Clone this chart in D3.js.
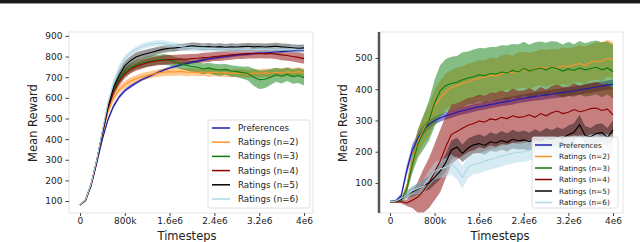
<!DOCTYPE html>
<meta charset="utf-8">
<style>
body { margin: 0; background: #fff; }
svg { display: block; font-family: "DejaVu Sans", sans-serif; }
.tick text { fill: #222; }
</style>
<body>
<script src="https://cdn.jsdelivr.net/npm/d3@7"></script>
<script>

// timesteps (shared by both panels)
var steps = [0, 1e5, 2e5, 3e5, 4e5, 5e5, 6e5, 7e5, 8e5, 9e5, 10e5, 11e5, 12e5, 13e5, 14e5, 15e5, 16e5, 17e5, 18e5, 19e5, 20e5,
             21e5, 22e5, 23e5, 24e5, 25e5, 26e5, 27e5, 28e5, 29e5, 30e5, 31e5, 32e5, 33e5, 34e5, 35e5, 36e5, 37e5, 38e5, 39e5, 40e5];

var seriesNames = ["Preferences", "Ratings (n=2)", "Ratings (n=3)", "Ratings (n=4)", "Ratings (n=5)", "Ratings (n=6)"];
var seriesColors = ["#1c1cae", "#ff9326", "#0b7d0b", "#8b0000", "#000000", "#add8e6"];

var xTickValues = [0, 8e5, 16e5, 24e5, 32e5, 40e5];
var xTickLabels = ["0", "800k", "1.6e6", "2.4e6", "3.2e6", "4e6"];
var leftYTicks = [100, 200, 300, 400, 500, 600, 700, 800, 900];
var rightYTicks = [100, 200, 300, 400, 500];

// left panel: means
var leftPref  = [80,102,175,285,400,495,560,605,635,655,672,688,700,712,724,735,745,752,760,766,773,778,784,789,793,797,800,804,807,810,812,815,817,818,820,822,824,826,828,830,832];
var leftN2    = [80,106,185,300,425,535,600,640,663,680,692,702,709,715,720,724,727,725,728,724,726,722,725,721,724,720,722,718,721,719,716,720,718,722,719,724,721,726,723,727,722];
var leftN3    = [80,104,182,295,430,555,640,690,725,745,760,768,775,780,785,786,782,774,765,758,752,748,740,745,738,735,738,730,727,722,718,700,688,690,700,712,705,714,703,708,698];
var leftN4    = [80,105,180,292,425,548,630,680,715,738,752,762,770,776,780,783,785,786,788,787,790,792,795,797,800,802,805,808,810,812,814,815,816,813,815,812,808,805,800,796,790];
var leftN5    = [80,105,182,295,432,560,650,710,755,780,798,808,815,822,830,836,840,842,845,848,852,850,847,849,846,848,845,847,846,848,850,847,849,846,848,850,847,845,843,840,842];
var leftN6    = [80,106,185,300,440,575,675,745,790,815,835,848,857,862,865,863,858,852,848,845,843,840,842,838,840,837,839,836,838,835,837,834,836,834,836,833,835,833,835,832,834];
// left panel: band half-widths
var leftPrefSd = [2,3,5,8,10,10,10,9,8,8,7,7,7,7,7,7,7,7,7,7,7,7,7,7,7,7,7,7,7,7,7,7,7,7,7,7,7,7,7,7,7];
var leftN2Sd   = [2,4,8,12,15,16,17,18,18,18,18,18,17,18,19,18,20,19,18,20,19,18,19,20,18,19,20,18,19,21,20,19,21,20,22,20,21,22,20,21,20];
var leftN3Sd   = [2,4,8,12,15,18,20,22,22,23,22,23,24,25,24,26,25,24,26,25,26,27,26,25,27,28,26,28,27,30,34,42,45,44,38,34,36,33,35,36,38];
var leftN4Sd   = [2,4,8,12,15,18,20,20,21,20,21,22,21,22,22,23,22,23,22,24,23,22,24,23,22,24,23,24,22,24,23,25,24,23,25,24,26,25,24,26,25];
var leftN5Sd   = [2,4,8,12,15,18,22,24,24,22,22,20,20,19,18,18,17,17,16,17,16,17,16,17,16,17,16,17,16,17,16,17,16,17,16,17,16,17,16,17,16];
var leftN6Sd   = [2,4,8,12,15,16,16,15,15,14,14,14,14,15,15,15,15,16,17,16,17,16,17,16,17,16,17,16,17,16,17,16,17,16,17,16,17,16,17,16,17];

// right panel: means
var rightPref = [40,42,58,140,205,243,270,287,300,308,315,320,326,331,335,340,344,347,351,354,358,361,364,368,371,374,377,379,382,384,387,390,392,395,398,401,404,407,410,413,416];
var rightN2   = [40,40,45,85,170,232,270,300,345,372,392,405,412,418,424,430,435,438,445,442,450,455,452,460,462,458,465,470,466,472,468,475,472,478,482,476,486,490,488,499,494];
var rightN3   = [40,40,44,80,160,225,262,300,355,395,412,418,422,430,436,440,446,443,450,448,455,452,460,456,466,458,464,468,462,470,466,458,465,460,468,462,466,470,462,468,456];
var rightN4   = [40,40,40,36,45,55,75,100,135,170,215,255,265,275,285,290,298,295,305,302,310,306,315,310,312,318,310,322,315,325,330,322,326,335,328,332,338,340,332,336,318];
var rightN5   = [40,42,48,62,72,80,92,100,118,138,165,205,215,195,212,222,226,220,232,228,236,230,240,235,238,232,242,236,246,240,248,244,254,262,286,252,248,258,262,245,270];
var rightN6   = [40,42,50,62,75,82,90,115,138,145,150,160,145,118,150,160,163,170,175,180,186,190,195,198,200,205,208,210,212,215,214,218,216,220,218,222,220,224,222,225,223];
// right panel: band half-widths
var rightPrefSd = [3,4,8,15,18,18,16,14,12,12,12,12,12,12,12,12,12,12,12,12,12,13,13,13,13,13,13,14,14,14,14,14,14,14,15,15,15,15,15,15,15];
var rightN2Sd   = [3,3,5,15,30,40,45,50,55,55,58,56,58,55,57,56,58,55,57,56,58,57,55,58,57,59,56,58,60,57,59,58,60,57,59,61,58,60,62,59,58];
var rightN3Sd   = [3,3,5,15,30,45,55,65,75,82,85,86,84,88,85,87,86,88,85,87,86,88,85,87,86,84,86,85,87,84,86,85,87,84,86,85,87,86,88,85,86];
var rightN4Sd   = [3,3,5,10,25,50,70,80,90,100,100,95,90,88,86,85,84,85,84,86,85,84,86,85,84,85,84,85,84,85,84,85,83,84,82,83,82,83,84,83,84];
var rightN5Sd   = [3,4,8,12,15,18,20,22,24,26,28,30,30,28,30,28,30,29,30,28,30,29,30,28,30,29,30,28,30,29,30,28,30,29,32,30,28,30,29,31,30];
var rightN6Sd   = [3,4,8,12,15,18,22,25,28,30,30,32,34,36,34,32,33,32,33,32,33,32,33,32,33,32,33,32,33,32,33,32,33,32,33,32,33,32,33,32,33];

var svg = d3.select("body").append("svg")
    .attr("width", 640)
    .attr("height", 242);

// thick rule at the very top
svg.append("rect").attr("x", 0).attr("y", 0).attr("width", 640).attr("height", 3).attr("fill", "#1a1a1a");
svg.append("rect").attr("x", 0).attr("y", 3).attr("width", 640).attr("height", 1).attr("fill", "#999");

function panel(opt) {
  var x = d3.scaleLinear().domain(opt.xDomain).range([opt.left, opt.right]);
  var y = d3.scaleLinear().domain(opt.yDomain).range([opt.bottom, opt.top]);
  var g = svg.append("g");

  g.append("defs").append("clipPath").attr("id", opt.id)
    .append("rect").attr("x", opt.left).attr("y", opt.top)
    .attr("width", opt.right - opt.left).attr("height", opt.bottom - opt.top);

  var plot = g.append("g").attr("clip-path", "url(#" + opt.id + ")");

  // shaded bands first, then lines
  opt.means.forEach(function(m, i) {
    var sd = opt.sds[i];
    var area = d3.area()
      .x(function(d, j) { return x(steps[j]); })
      .y0(function(d, j) { return y(d - sd[j]); })
      .y1(function(d, j) { return y(d + sd[j]); });
    plot.append("path").datum(m)
      .attr("d", area)
      .attr("fill", seriesColors[i])
      .attr("fill-opacity", i == 4 ? 0.4 : 0.5);
  });
  opt.means.forEach(function(m, i) {
    var line = d3.line()
      .x(function(d, j) { return x(steps[j]); })
      .y(function(d) { return y(d); });
    plot.append("path").datum(m)
      .attr("d", line)
      .attr("fill", "none")
      .attr("stroke", seriesColors[i])
      .attr("stroke-width", 1.1);
  });

  // frame
  g.append("rect").attr("x", opt.left).attr("y", opt.top)
    .attr("width", opt.right - opt.left).attr("height", opt.bottom - opt.top)
    .attr("fill", "none").attr("stroke", "#e4e4e4").attr("stroke-width", 1);
  if (opt.darkSpine) {
    g.append("line").attr("x1", opt.left).attr("x2", opt.left)
      .attr("y1", opt.top).attr("y2", opt.bottom)
      .attr("stroke", "#555").attr("stroke-width", 2.5);
  }

  // axes
  var xAxis = g.append("g")
    .attr("transform", "translate(0," + opt.bottom + ")")
    .call(d3.axisBottom(x).tickValues(xTickValues)
      .tickFormat(function(d, i) { return xTickLabels[i]; })
      .tickSize(3).tickPadding(2));
  var yAxis = g.append("g")
    .attr("transform", "translate(" + opt.left + ",0)")
    .call(d3.axisLeft(y).tickValues(opt.yTicks).tickSize(3.5).tickPadding(3));
  [xAxis, yAxis].forEach(function(a) {
    a.select(".domain").remove();
    a.selectAll(".tick line").attr("stroke", "#444");
    a.selectAll(".tick text").style("font-size", "9px").style("font-family", "DejaVu Sans");
  });

  g.append("text")
    .attr("x", opt.xLabelX).attr("y", 240)
    .attr("text-anchor", "middle")
    .style("font-size", "11.5px").attr("fill", "#222")
    .text("Timesteps");
  g.append("text")
    .attr("transform", "translate(" + opt.yLabelX + ",123) rotate(-90)")
    .attr("text-anchor", "middle")
    .style("font-size", "11.5px").attr("fill", "#222")
    .text("Mean Reward");

  // legend
  var L = opt.legend;
  g.append("rect").attr("x", L.x).attr("y", L.y)
    .attr("width", L.w).attr("height", L.h).attr("rx", 2)
    .attr("fill", "#fff").attr("fill-opacity", L.alpha)
    .attr("stroke", "#d8d8d8").attr("stroke-width", 0.8);
  seriesNames.forEach(function(name, i) {
    var cy = L.y0 + i * L.dy;
    g.append("line").attr("x1", L.hx0).attr("x2", L.hx1)
      .attr("y1", cy).attr("y2", cy)
      .attr("stroke", seriesColors[i]).attr("stroke-width", 1.5);
    g.append("text").attr("x", L.tx).attr("y", cy)
      .attr("dy", "0.35em")
      .style("font-size", L.fs + "px").attr("fill", "#222")
      .text(name);
  });
}

panel({
  id: "clipL",
  left: 69, right: 313, top: 32, bottom: 213,
  xDomain: [-0.196e6, 4.16e6], yDomain: [42, 919],
  yTicks: leftYTicks,
  means: [leftPref, leftN2, leftN3, leftN4, leftN5, leftN6],
  sds: [leftPrefSd, leftN2Sd, leftN3Sd, leftN4Sd, leftN5Sd, leftN6Sd],
  darkSpine: false,
  xLabelX: 187, yLabelX: 37,
  legend: {x: 208, y: 120, w: 102, h: 88, alpha: 1, y0: 128, dy: 14.2, hx0: 212, hx1: 230, tx: 238, fs: 8.7}
});

panel({
  id: "clipR",
  left: 379, right: 623, top: 32, bottom: 213,
  xDomain: [-0.197e6, 4.179e6], yDomain: [4, 583],
  yTicks: rightYTicks,
  means: [rightPref, rightN2, rightN3, rightN4, rightN5, rightN6],
  sds: [rightPrefSd, rightN2Sd, rightN3Sd, rightN4Sd, rightN5Sd, rightN6Sd],
  darkSpine: true,
  xLabelX: 500, yLabelX: 347,
  legend: {x: 532, y: 137, w: 86, h: 71, alpha: 0.8, y0: 145, dy: 11.5, hx0: 535, hx1: 552, tx: 559, fs: 7.3}
});

</script>
</body>
